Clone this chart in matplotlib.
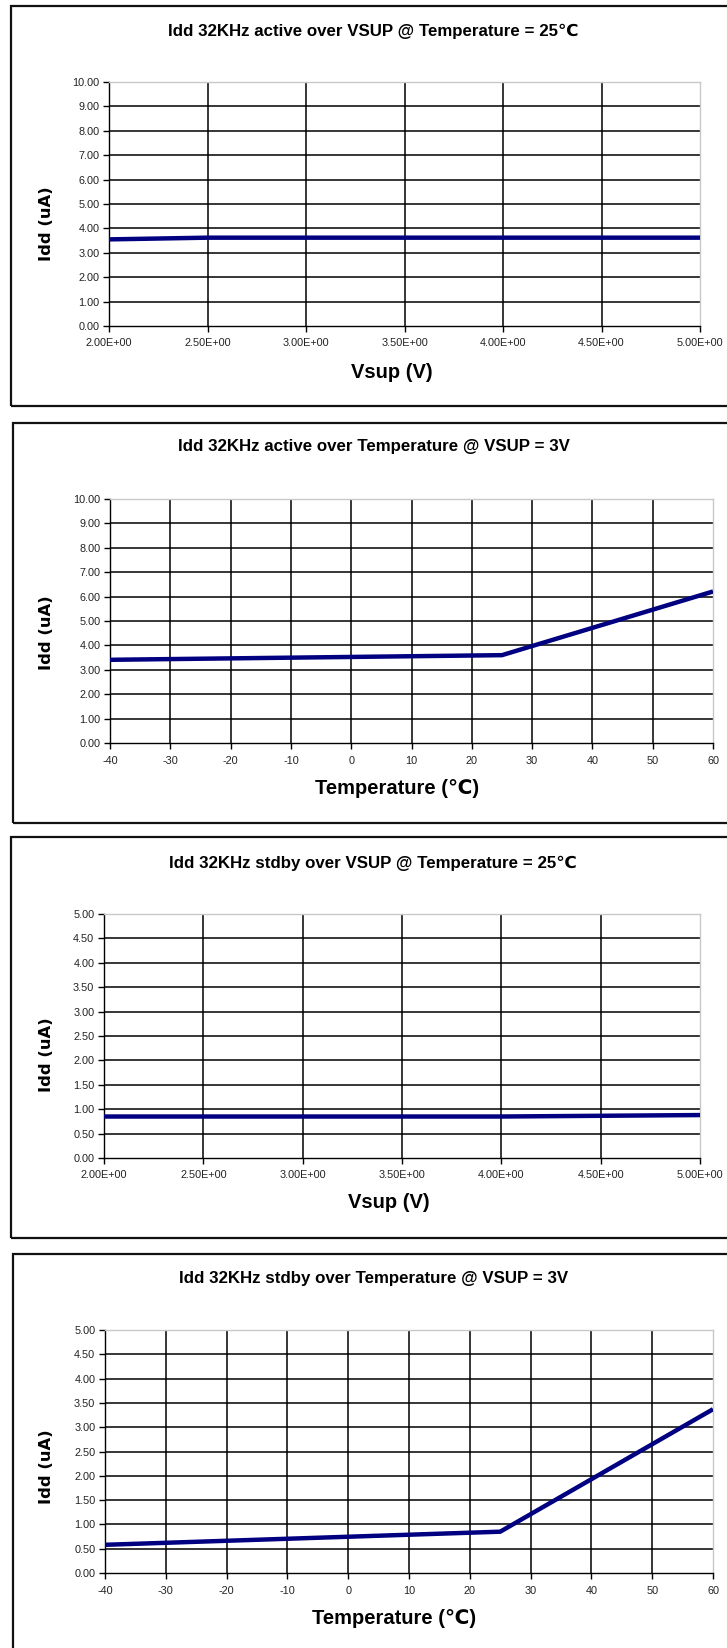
import numpy as np
import matplotlib
matplotlib.use('Agg')
import matplotlib.pyplot as plt
from matplotlib.patches import Rectangle

FIG_W, FIG_H = 727, 1648
DPI = 100

vsup_v = [2.0, 2.5, 3.0, 3.5, 4.0, 4.5, 5.0]
temp_c = [-40, 25, 60]

idd_active_vsup = [3.55, 3.62, 3.62, 3.62, 3.62, 3.62, 3.62]
idd_active_temp = [3.41, 3.60, 6.21]
idd_stdby_vsup = [0.85, 0.85, 0.85, 0.85, 0.85, 0.865, 0.88]
idd_stdby_temp = [0.58, 0.85, 3.37]

vsup_ticks = [2.0, 2.5, 3.0, 3.5, 4.0, 4.5, 5.0]
temp_ticks = [-40, -30, -20, -10, 0, 10, 20, 30, 40, 50, 60]
idd_ticks_active = [0, 1, 2, 3, 4, 5, 6, 7, 8, 9, 10]
idd_ticks_stdby = [0, 0.5, 1.0, 1.5, 2.0, 2.5, 3.0, 3.5, 4.0, 4.5, 5.0]

titles = [
    'Idd 32KHz active over VSUP @ Temperature = 25\u2103',
    'Idd 32KHz active over Temperature @ VSUP = 3V',
    'Idd 32KHz stdby over VSUP @ Temperature = 25\u2103',
    'Idd 32KHz stdby over Temperature @ VSUP = 3V',
]
xlabels = ['Vsup (V)', 'Temperature (\u2103)', 'Vsup (V)', 'Temperature (\u2103)']
ylabel = 'Idd (uA)'

SANS = ['Liberation Sans', 'DejaVu Sans']
LINE_COLOR = '#000080'

# pixel layout of each panel: frame (left, top, bottom), axes (l, r, t, b),
# title (x, y), xlabel (x, y), ylabel (x, y)
PANELS = [
    {'x': vsup_v, 'y': idd_active_vsup, 'xt': vsup_ticks, 'yt': idd_ticks_active, 'sci': True,
     'frame': (11, 6, 406), 'ax': (109, 700, 82, 326),
     'title': (373, 31), 'xlab': (392, 372), 'ylab': (46, 224)},
    {'x': temp_c, 'y': idd_active_temp, 'xt': temp_ticks, 'yt': idd_ticks_active, 'sci': False,
     'frame': (13, 423, 823), 'ax': (110, 713, 499, 743),
     'title': (374, 446), 'xlab': (397, 788), 'ylab': (46, 633)},
    {'x': vsup_v, 'y': idd_stdby_vsup, 'xt': vsup_ticks, 'yt': idd_ticks_stdby, 'sci': True,
     'frame': (11, 837, 1238), 'ax': (104, 700, 914, 1158),
     'title': (373, 863), 'xlab': (389, 1203), 'ylab': (46, 1055)},
    {'x': temp_c, 'y': idd_stdby_temp, 'xt': temp_ticks, 'yt': idd_ticks_stdby, 'sci': False,
     'frame': (13, 1254, 1700), 'ax': (105, 713, 1330, 1573),
     'title': (374, 1278), 'xlab': (394, 1618), 'ylab': (46, 1467)},
]


def fx(px):
    return px / FIG_W


def fy(py):
    return 1 - py / FIG_H


def draw_panel(fig, cfg, title, xlabel):
    fl, ft, fb = cfg['frame']
    fig.patches.append(Rectangle((fx(fl), fy(fb)), fx(760 - fl), (fb - ft) / FIG_H,
                                 transform=fig.transFigure, fill=False,
                                 edgecolor='#111111', linewidth=1.6))

    l, r, t, b = cfg['ax']
    ax = fig.add_axes([fx(l), fy(b), (r - l) / FIG_W, (b - t) / FIG_H])

    xt, yt = cfg['xt'], cfg['yt']
    ax.set_xlim(xt[0], xt[-1])
    ax.set_ylim(yt[0], yt[-1])

    ax.hlines(yt[1:-1], xt[0], xt[-1], color='black', linewidth=1.1, zorder=2)
    ax.vlines(xt[1:-1], yt[0], yt[-1], color='black', linewidth=1.1, zorder=2)

    ax.plot(cfg['x'], cfg['y'], color=LINE_COLOR, linewidth=3.2, zorder=5,
            solid_capstyle='butt', solid_joinstyle='miter')

    for side in ['left', 'bottom']:
        ax.spines[side].set_color('black')
        ax.spines[side].set_linewidth(1.0)
    for side in ['top', 'right']:
        ax.spines[side].set_color('#c8c8c8')
        ax.spines[side].set_linewidth(1.0)

    ax.set_xticks(xt)
    ax.set_yticks(yt)
    if cfg['sci']:
        ax.set_xticklabels([f'{v:.2E}' for v in xt])
    else:
        ax.set_xticklabels([str(int(v)) for v in xt])
    ax.set_yticklabels([f'{v:.2f}' for v in yt])
    ax.tick_params(axis='both', direction='out', length=4, width=1, colors='black',
                   labelsize=7.8, labelcolor='#222222')
    ax.tick_params(axis='x', pad=5)
    ax.tick_params(axis='y', pad=3)
    for lab in ax.get_xticklabels() + ax.get_yticklabels():
        lab.set_family(SANS)

    tx, ty = cfg['title']
    fig.text(fx(tx), fy(ty), title, ha='center', va='center', fontsize=12.2,
             fontweight='bold', family=SANS)
    lx, ly = cfg['xlab']
    fig.text(fx(lx), fy(ly), xlabel, ha='center', va='center', fontsize=14.5,
             fontweight='bold', family=SANS)
    yx, yy = cfg['ylab']
    fig.text(fx(yx), fy(yy), ylabel, ha='center', va='center', rotation=90,
             fontsize=11.8, fontweight='bold', family=['DejaVu Sans'])


def main():
    fig = plt.figure(figsize=(FIG_W / DPI, FIG_H / DPI), dpi=DPI)
    fig.patch.set_facecolor('white')
    for cfg, title, xlabel in zip(PANELS, titles, xlabels):
        draw_panel(fig, cfg, title, xlabel)
    fig.savefig('out.png', dpi=DPI)
    plt.close(fig)


if __name__ == '__main__':
    main()
